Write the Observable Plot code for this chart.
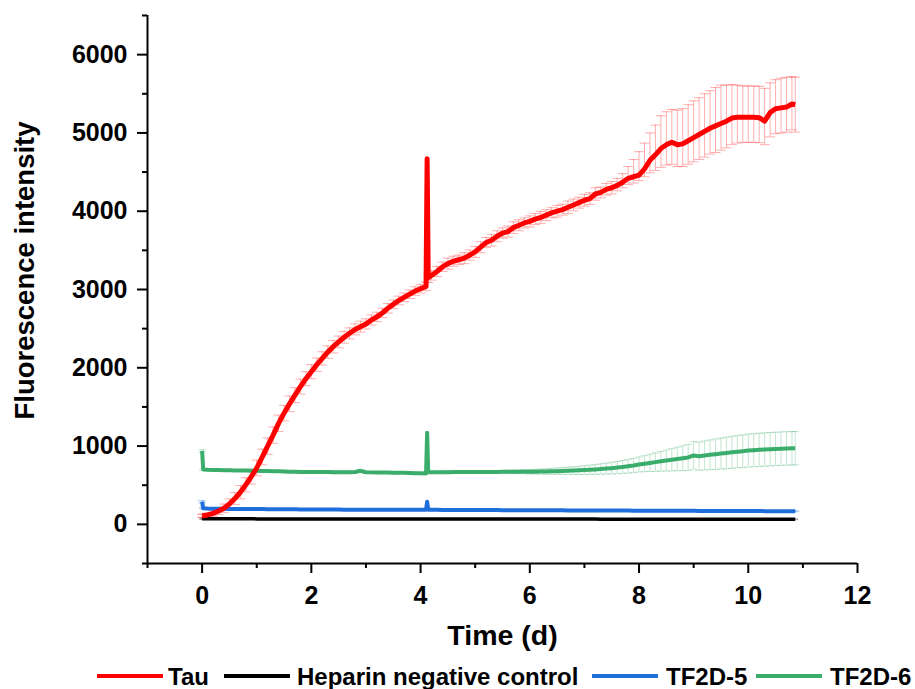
<!DOCTYPE html>
<html>
<head>
<meta charset="utf-8">
<script src="https://cdn.jsdelivr.net/npm/d3@7"></script>
<script src="https://cdn.jsdelivr.net/npm/@observablehq/plot@0.6"></script>
<style>
  html, body { margin: 0; padding: 0; background: #fff; overflow: hidden; }
  #chart svg { display: block; }
</style>
</head>
<body>
<div id="chart"></div>
<script>
// ---------- data ----------
const seriesNames = ["Tau", "Heparin negative control", "TF2D-5", "TF2D-6"];
const seriesColors = ["#ff0000", "#000000", "#1e6fdc", "#3aad6a"];

const xTicks = [0, 2, 4, 6, 8, 10, 12];
const xMinorTicks = [-1, 1, 3, 5, 7, 9, 11];
const yTicks = [0, 1000, 2000, 3000, 4000, 5000, 6000];
const yMinorTicks = [-500, 500, 1500, 2500, 3500, 4500, 5500, 6500];

const days = [
  0, 0.02,
  0.1, 0.2, 0.3, 0.4, 0.5, 0.6, 0.7, 0.8, 0.9, 1.0,
  1.1, 1.2, 1.3, 1.4, 1.5, 1.6, 1.7, 1.8, 1.9, 2.0,
  2.1, 2.2, 2.3, 2.4, 2.5, 2.6, 2.7, 2.8, 2.9, 3.0,
  3.1, 3.2, 3.3, 3.4, 3.5, 3.6, 3.7, 3.8, 3.9, 4.0, 4.1,
  4.12, 4.14,
  4.2, 4.3, 4.4, 4.5, 4.6, 4.7, 4.8, 4.9, 5.0,
  5.1, 5.2, 5.3, 5.4, 5.5, 5.6, 5.7, 5.8, 5.9, 6.0,
  6.1, 6.2, 6.3, 6.4, 6.5, 6.6, 6.7, 6.8, 6.9, 7.0,
  7.1, 7.2, 7.3, 7.4, 7.5, 7.6, 7.7, 7.8, 7.9, 8.0,
  8.1, 8.2, 8.3, 8.4, 8.5, 8.6, 8.7, 8.8, 8.9, 9.0,
  9.1, 9.2, 9.3, 9.4, 9.5, 9.6, 9.7, 9.8, 9.9, 10.0,
  10.1, 10.2, 10.3, 10.4, 10.5, 10.6, 10.7, 10.8,
  10.86
];

const tauMean = [
  110, 110,
  120, 140, 170, 205, 260, 330, 410, 505, 610, 720,
  860, 1000, 1140, 1290, 1420, 1540, 1650, 1760, 1860, 1950,
  2040, 2120, 2200, 2270, 2330, 2390, 2440, 2490, 2525, 2560,
  2610, 2650, 2700, 2760, 2810, 2860, 2900, 2940, 2980, 3010, 3040,
  4670, 3150,
  3180, 3230, 3290, 3330, 3360, 3380, 3400, 3440, 3480,
  3540, 3600, 3630, 3680, 3720, 3740, 3790, 3820, 3850, 3870,
  3900, 3920, 3950, 3980, 4000, 4020, 4050, 4080, 4110, 4140,
  4160, 4220, 4240, 4280, 4300, 4330, 4370, 4420, 4440, 4460,
  4540, 4650, 4720, 4800, 4850, 4880, 4850, 4860, 4900, 4940,
  4980, 5020, 5060, 5090, 5120, 5150, 5190, 5200, 5200, 5200,
  5200, 5195, 5150, 5260, 5310, 5320, 5330, 5370,
  5360
];
const tauErrUp = [
  20, 20,
  25, 35, 45, 55, 65, 75, 85, 90, 95, 100,
  100, 105, 105, 105, 100, 100, 95, 95, 90, 90,
  85, 85, 80, 80, 75, 75, 70, 70, 70, 65,
  65, 60, 60, 60, 55, 55, 55, 55, 55, 55, 55,
  0, 60,
  60, 65, 60, 70, 65, 60, 70, 65, 70,
  70, 65, 75, 70, 65, 70, 75, 70, 65, 70,
  70, 75, 70, 65, 75, 70, 80, 75, 70, 75,
  75, 80, 70, 75, 80, 90, 110, 150, 220, 300,
  330, 350, 380, 420, 420, 420, 440, 450, 460, 470,
  470, 480, 480, 490, 490, 460, 430, 410, 400, 400,
  400, 400, 420, 380, 370, 380, 380, 350,
  350
];
const tauErrLow = [
  20, 20,
  25, 35, 45, 55, 65, 75, 85, 90, 95, 100,
  100, 105, 105, 105, 100, 100, 95, 95, 90, 90,
  85, 85, 80, 80, 75, 75, 70, 70, 70, 65,
  65, 60, 60, 60, 55, 55, 55, 55, 55, 55, 55,
  0, 60,
  60, 65, 60, 70, 65, 60, 70, 65, 70,
  70, 65, 75, 70, 65, 70, 75, 70, 65, 70,
  70, 75, 70, 65, 75, 70, 80, 75, 70, 75,
  75, 80, 70, 75, 80, 70, 70, 80, 80, 70,
  100, 160, 200, 240, 260, 280, 280, 290, 300, 310,
  320, 330, 330, 340, 340, 340, 340, 330, 320, 320,
  320, 320, 300, 310, 320, 320, 320, 330,
  350
];

const heparinMean = [
  72, 72,
  72, 72, 72, 71, 71, 71, 71, 71, 71, 70,
  70, 70, 70, 70, 70, 70, 70, 70, 70, 70,
  70, 70, 69, 69, 69, 69, 69, 69, 69, 69,
  69, 69, 69, 69, 69, 68, 68, 68, 68, 68, 68,
  68, 68,
  68, 68, 68, 68, 68, 68, 68, 68, 68,
  68, 68, 67, 67, 67, 67, 67, 67, 67, 67,
  67, 67, 67, 67, 67, 67, 67, 67, 67, 67,
  67, 67, 66, 66, 66, 66, 66, 66, 66, 66,
  66, 66, 66, 66, 66, 66, 66, 66, 66, 66,
  66, 66, 66, 65, 65, 65, 65, 65, 65, 65,
  65, 65, 65, 65, 65, 65, 65, 65,
  65
];
const heparinErr = [
  8, 5,
  5, 5, 5, 5, 5, 5, 5, 5, 5, 5,
  5, 5, 5, 5, 5, 5, 5, 5, 5, 5,
  5, 5, 5, 5, 5, 5, 5, 5, 5, 5,
  5, 5, 5, 5, 5, 5, 5, 5, 5, 5, 5,
  0, 5,
  5, 5, 5, 5, 5, 5, 5, 5, 5,
  5, 5, 5, 5, 5, 5, 5, 5, 5, 5,
  5, 5, 5, 5, 5, 5, 5, 5, 5, 5,
  5, 5, 5, 5, 5, 5, 5, 5, 5, 5,
  5, 5, 5, 5, 5, 5, 5, 5, 5, 5,
  5, 5, 5, 5, 5, 5, 5, 5, 5, 5,
  5, 5, 5, 5, 5, 5, 5, 5,
  5
];

const tf2d5Mean = [
  290, 205,
  202, 200, 199, 198, 197, 197, 196, 196, 195, 195,
  195, 194, 194, 193, 193, 192, 192, 191, 191, 190,
  190, 190, 189, 189, 189, 188, 188, 188, 188, 187,
  187, 187, 186, 186, 186, 186, 185, 185, 185, 185, 185,
  290, 186,
  185, 185, 184, 184, 184, 183, 183, 183, 183,
  182, 182, 182, 182, 181, 181, 181, 181, 180, 180,
  180, 180, 179, 179, 179, 179, 178, 178, 178, 178,
  177, 177, 177, 177, 176, 176, 176, 176, 175, 175,
  175, 175, 174, 174, 174, 174, 173, 173, 173, 173,
  172, 172, 172, 172, 171, 171, 171, 171, 170, 170,
  170, 170, 169, 169, 169, 169, 168, 168,
  168
];
const tf2d5Err = [
  15, 6,
  6, 6, 6, 6, 6, 6, 6, 6, 6, 6,
  6, 6, 6, 6, 6, 6, 6, 6, 6, 6,
  6, 6, 6, 6, 6, 6, 6, 6, 6, 6,
  6, 6, 6, 6, 6, 6, 6, 6, 6, 6, 6,
  0, 6,
  6, 6, 6, 6, 6, 6, 6, 6, 6,
  6, 6, 6, 6, 6, 6, 6, 6, 6, 6,
  6, 6, 6, 6, 6, 6, 6, 6, 6, 6,
  6, 6, 6, 6, 6, 6, 6, 6, 6, 6,
  6, 6, 6, 6, 6, 6, 6, 6, 6, 6,
  6, 6, 6, 6, 6, 6, 6, 6, 6, 6,
  6, 6, 6, 6, 6, 6, 6, 6,
  6
];

const tf2d6Mean = [
  940, 700,
  697, 695, 694, 692, 690, 689, 688, 687, 686, 685,
  683, 681, 679, 677, 675, 673, 671, 670, 669, 668,
  668, 668, 668, 667, 667, 667, 667, 668, 684, 665,
  664, 663, 662, 661, 660, 659, 658, 656, 654, 652, 650,
  1170, 668,
  666, 666, 667, 667, 668, 668, 668, 669, 669,
  669, 670, 670, 670, 671, 671, 671, 672, 672, 672,
  673, 674, 675, 677, 679, 681, 684, 687, 690, 694,
  698, 702, 707, 712, 718, 725, 733, 742, 752, 765,
  775, 785, 795, 805, 815, 825, 835, 845, 855, 880,
  870, 880, 888, 896, 904, 912, 920, 928, 935, 942,
  947, 952, 956, 960, 964, 967, 970, 972,
  972
];
const tf2d6Err = [
  15, 10,
  10, 10, 10, 10, 10, 10, 10, 10, 10, 10,
  10, 10, 10, 10, 10, 10, 10, 10, 10, 10,
  10, 10, 10, 10, 10, 10, 10, 10, 10, 10,
  10, 10, 10, 10, 10, 10, 10, 10, 10, 10, 10,
  0, 10,
  10, 10, 10, 10, 10, 10, 10, 10, 10,
  12, 12, 14, 15, 16, 18, 20, 22, 25, 28,
  30, 32, 35, 38, 40, 43, 46, 49, 52, 55,
  58, 62, 66, 70, 74, 78, 82, 86, 90, 95,
  102, 110, 118, 126, 134, 142, 150, 158, 166, 175,
  180, 185, 190, 194, 198, 201, 204, 206, 208, 210,
  211, 212, 212, 213, 213, 213, 213, 213,
  213
];

// ---------- build tables ----------
function table(mean, errUp, errLow) {
  return days.map((t, i) => ({t, v: mean[i], hi: errUp[i], lo: errLow[i]}))
    .filter(d => d.v !== undefined && d.hi !== undefined && d.lo !== undefined);
}
const series = [
  {name: seriesNames[0], color: seriesColors[0], data: table(tauMean, tauErrUp, tauErrLow), cap: 5, op: 0.32},
  {name: seriesNames[1], color: seriesColors[1], data: table(heparinMean, heparinErr, heparinErr), cap: 3, op: 0.3},
  {name: seriesNames[2], color: seriesColors[2], data: table(tf2d5Mean, tf2d5Err, tf2d5Err), cap: 4, op: 0.35},
  {name: seriesNames[3], color: seriesColors[3], data: table(tf2d6Mean, tf2d6Err, tf2d6Err), cap: 4, op: 0.3}
];

const capSymbol = {
  draw(ctx, size) {
    const r = Math.sqrt(size / Math.PI);
    ctx.moveTo(-r, 0);
    ctx.lineTo(r, 0);
  }
};

function errorMarks(s) {
  const d = s.data.filter(p => p.hi > 0 || p.lo > 0);
  return [
    Plot.ruleX(d, {x: "t", y1: p => p.v - p.lo, y2: p => p.v + p.hi, stroke: s.color, strokeOpacity: s.op, strokeWidth: 1}),
    Plot.dot(d, {x: "t", y: p => p.v + p.hi, symbol: capSymbol, r: s.cap, fill: "none", stroke: s.color, strokeOpacity: s.op, strokeWidth: 1}),
    Plot.dot(d, {x: "t", y: p => p.v - p.lo, symbol: capSymbol, r: s.cap, fill: "none", stroke: s.color, strokeOpacity: s.op, strokeWidth: 1})
  ];
}
function lineMark(s, w) {
  return Plot.line(s.data, {x: "t", y: "v", stroke: s.color, strokeWidth: w, strokeLinejoin: "round", strokeLinecap: "butt"});
}

const FONT = "'Liberation Sans', Arial, Helvetica, sans-serif";

const chart = Plot.plot({
  width: 915,
  height: 655,
  marginLeft: 147,
  marginRight: 58,
  marginTop: 15,
  marginBottom: 92,
  style: {fontFamily: FONT, fontWeight: "bold", fontSize: "25px", color: "#000", background: "#fff"},
  x: {domain: [-1, 12]},
  y: {domain: [-500, 6500]},
  marks: [
    ...errorMarks(series[1]),
    ...errorMarks(series[2]),
    ...errorMarks(series[3]),
    ...errorMarks(series[0]),
    lineMark(series[1], 3.5),
    lineMark(series[2], 4),
    lineMark(series[3], 4),
    lineMark(series[0], 5),
    Plot.axisX({ticks: xTicks, tickSize: 10, tickPadding: 13, tickFormat: d => String(d), label: null, fontSize: 25, strokeWidth: 2}),
    Plot.axisX({ticks: xMinorTicks, tickSize: 5, tickFormat: () => "", label: null, strokeWidth: 2}),
    Plot.axisY({ticks: yTicks, tickSize: 10, tickPadding: 10, tickFormat: d => String(d), label: null, fontSize: 25, strokeWidth: 2}),
    Plot.axisY({ticks: yMinorTicks, tickSize: 5, tickFormat: () => "", label: null, strokeWidth: 2}),
    Plot.ruleY([-500], {stroke: "#000", strokeWidth: 2}),
    Plot.ruleX([-1], {stroke: "#000", strokeWidth: 2}),
    Plot.text(["Time (d)"], {frameAnchor: "bottom", dy: 72, fontSize: 28.5, fontWeight: "bold", fill: "#000", textAnchor: "middle", lineAnchor: "middle"}),
    Plot.text(["Fluorescence intensity"], {frameAnchor: "top-left", dy: 255, dx: -122, rotate: -90, fontSize: 27.5, fontWeight: "bold", fill: "#000", textAnchor: "middle", lineAnchor: "middle"})
  ]
});
document.getElementById("chart").appendChild(chart);

// ---------- legend below the plot ----------
const legendLayout = [
  {lineX: 97, textX: 168},
  {lineX: 224, textX: 297},
  {lineX: 592, textX: 666},
  {lineX: 756, textX: 830}
];
const leg = d3.select("#chart").append("svg")
  .attr("width", 915).attr("height", 34)
  .style("display", "block")
  .style("font-family", FONT);
series.forEach((s, i) => {
  const L = legendLayout[i];
  leg.append("line")
    .attr("x1", L.lineX).attr("x2", L.lineX + 66)
    .attr("y1", 21).attr("y2", 21)
    .attr("stroke", s.color).attr("stroke-width", 4);
  leg.append("text")
    .attr("x", L.textX).attr("y", 30)
    .attr("font-size", 24).attr("font-weight", "bold")
    .attr("fill", "#000")
    .text(s.name);
});
</script>
</body>
</html>
